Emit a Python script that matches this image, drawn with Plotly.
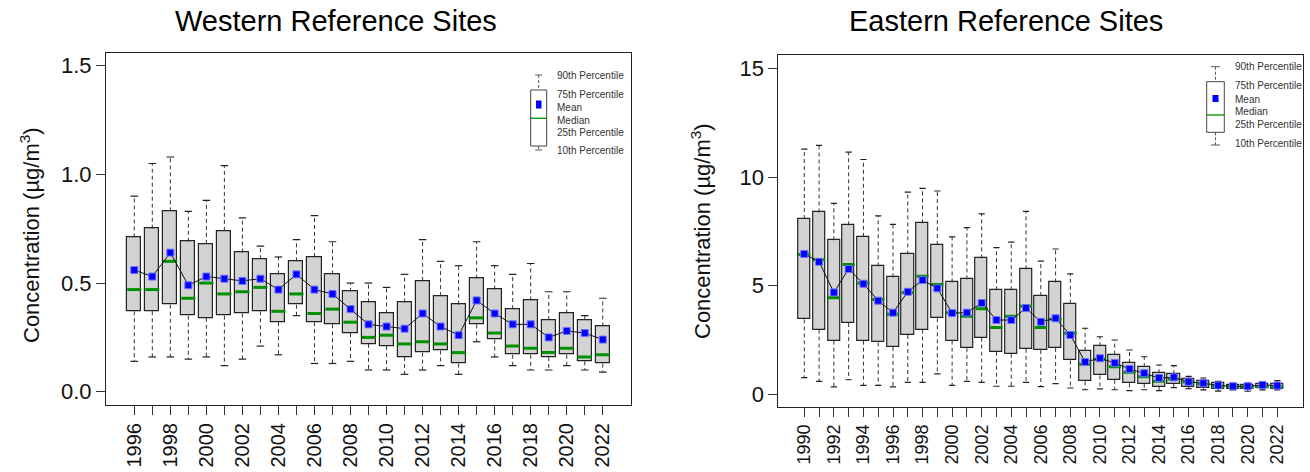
import plotly.graph_objects as go

# ---------------- data ----------------
west_years = list(range(1996, 2023))
west_p90 = [0.90, 1.05, 1.08, 0.83, 0.88, 1.04, 0.80, 0.67, 0.62, 0.70, 0.81, 0.69, 0.50, 0.50,
            0.48, 0.54, 0.70, 0.60, 0.58, 0.69, 0.58, 0.54, 0.59, 0.46, 0.46, 0.35, 0.43]
west_q3 = [0.71, 0.75, 0.83, 0.69, 0.68, 0.74, 0.64, 0.61, 0.54, 0.60, 0.62, 0.54, 0.46, 0.41,
           0.36, 0.41, 0.51, 0.44, 0.40, 0.52, 0.47, 0.38, 0.42, 0.33, 0.36, 0.33, 0.30]
west_mean = [0.56, 0.53, 0.64, 0.49, 0.53, 0.52, 0.51, 0.52, 0.47, 0.54, 0.47, 0.45, 0.38, 0.31,
             0.30, 0.29, 0.36, 0.30, 0.26, 0.42, 0.36, 0.31, 0.31, 0.25, 0.28, 0.27, 0.24]
west_median = [0.47, 0.47, 0.60, 0.43, 0.50, 0.45, 0.46, 0.48, 0.37, 0.45, 0.36, 0.38, 0.32, 0.25,
               0.26, 0.22, 0.23, 0.22, 0.18, 0.34, 0.27, 0.21, 0.20, 0.18, 0.20, 0.16, 0.17]
west_q1 = [0.37, 0.37, 0.40, 0.35, 0.34, 0.35, 0.36, 0.37, 0.32, 0.40, 0.32, 0.31, 0.27, 0.22,
           0.21, 0.16, 0.18, 0.19, 0.13, 0.31, 0.24, 0.17, 0.17, 0.16, 0.17, 0.14, 0.13]
west_p10 = [0.14, 0.16, 0.16, 0.15, 0.16, 0.12, 0.15, 0.21, 0.17, 0.35, 0.13, 0.13, 0.14, 0.10,
            0.10, 0.08, 0.10, 0.12, 0.08, 0.23, 0.16, 0.12, 0.10, 0.10, 0.12, 0.10, 0.09]

east_years = list(range(1990, 2023))
east_p90 = [11.29, 11.46, 8.79, 11.15, 10.81, 8.21, 7.82, 9.31, 9.48, 9.36, 7.25, 7.67, 8.31, 6.75,
            7.01, 8.42, 6.13, 6.69, 5.54, 3.04, 2.65, 2.50, 2.04, 1.73, 1.35, 1.32, 0.83, 0.75,
            0.60, 0.51, 0.51, 0.57, 0.63]
east_q3 = [8.07, 8.37, 7.09, 7.78, 7.25, 5.89, 5.38, 6.44, 7.87, 6.87, 5.15, 5.29, 6.26, 4.79,
           4.79, 5.75, 4.52, 5.15, 4.17, 1.99, 2.21, 1.83, 1.44, 1.26, 0.97, 0.92, 0.72, 0.61,
           0.51, 0.44, 0.43, 0.46, 0.46]
east_mean = [6.46, 6.10, 4.69, 5.77, 5.09, 4.31, 3.76, 4.72, 5.26, 4.88, 3.74, 3.76, 4.20, 3.42,
             3.42, 3.97, 3.34, 3.50, 2.73, 1.49, 1.66, 1.44, 1.17, 0.97, 0.75, 0.78, 0.58, 0.51,
             0.41, 0.37, 0.37, 0.43, 0.40]
east_median = [6.44, 6.20, 4.45, 5.98, 5.12, 4.36, 3.68, 4.69, 5.43, 5.06, 3.76, 3.59, 3.94, 3.07,
               3.59, 4.05, 3.08, 3.45, 2.81, 1.38, 1.61, 1.27, 1.01, 0.81, 0.60, 0.71, 0.57, 0.48,
               0.37, 0.35, 0.34, 0.35, 0.35]
east_q1 = [3.45, 2.98, 2.47, 3.28, 2.47, 2.39, 2.18, 2.73, 2.98, 3.50, 2.47, 2.13, 2.61, 1.96,
           1.87, 2.09, 2.04, 2.13, 1.56, 0.60, 0.87, 0.67, 0.51, 0.48, 0.34, 0.48, 0.35, 0.28,
           0.26, 0.25, 0.25, 0.28, 0.25]
east_p10 = [0.77, 0.60, 0.34, 0.67, 0.41, 0.41, 0.34, 0.55, 0.55, 0.94, 0.41, 0.60, 0.55, 0.37,
            0.37, 0.55, 0.35, 0.49, 0.29, 0.21, 0.25, 0.21, 0.17, 0.21, 0.17, 0.31, 0.26, 0.20,
            0.15, 0.20, 0.14, 0.20, 0.20]

west_yticks = [0.0, 0.5, 1.0, 1.5]
west_yticktext = ["0.0", "0.5", "1.0", "1.5"]
east_yticks = [0, 5, 10, 15]
east_yticktext = ["0", "5", "10", "15"]

legend_labels = ["90th Percentile", "75th Percentile", "Mean", "Median",
                 "25th Percentile", "10th Percentile"]

FONT = "Liberation Sans, Arial, sans-serif"
W, H = 1310, 472
BOX_FILL = "#d3d3d3"
MED_COL = "#009000"
MEAN_COL = "#0000ff"

fig = go.Figure()


def add_panel(years, p10, q1, med, q3, p90, mean, xa, ya, bw, capw, msize):
    # boxes
    fig.add_trace(go.Bar(x=years, y=[b - a for a, b in zip(q1, q3)], base=q1, width=bw,
                         marker=dict(color=BOX_FILL, line=dict(color="#222222", width=1.2)),
                         xaxis=xa, yaxis=ya, hoverinfo="skip"))
    # whiskers (dashed)
    wx, wy = [], []
    for yr, a, b, c, d in zip(years, p10, q1, q3, p90):
        wx += [yr, yr, None, yr, yr, None]
        wy += [c, d, None, b, a, None]
    fig.add_trace(go.Scatter(x=wx, y=wy, mode="lines", xaxis=xa, yaxis=ya,
                             line=dict(color="#333333", width=1, dash="4px,3px"),
                             hoverinfo="skip"))
    # caps
    cx, cy = [], []
    for yr, a, d in zip(years, p10, p90):
        cx += [yr - capw / 2, yr + capw / 2, None, yr - capw / 2, yr + capw / 2, None]
        cy += [d, d, None, a, a, None]
    fig.add_trace(go.Scatter(x=cx, y=cy, mode="lines", xaxis=xa, yaxis=ya,
                             line=dict(color="#222222", width=1.2), hoverinfo="skip"))
    # medians
    mx, my = [], []
    for yr, m in zip(years, med):
        mx += [yr - bw / 2, yr + bw / 2, None]
        my += [m, m, None]
    fig.add_trace(go.Scatter(x=mx, y=my, mode="lines", xaxis=xa, yaxis=ya,
                             line=dict(color=MED_COL, width=3), hoverinfo="skip"))
    # mean line + markers
    fig.add_trace(go.Scatter(x=years, y=mean, mode="lines", xaxis=xa, yaxis=ya,
                             line=dict(color="#111111", width=1), hoverinfo="skip"))
    fig.add_trace(go.Scatter(x=years, y=mean, mode="markers", xaxis=xa, yaxis=ya,
                             marker=dict(symbol="square", size=msize, color=MEAN_COL,
                                         line=dict(color="#7070ff", width=1)),
                             hoverinfo="skip"))


add_panel(west_years, west_p10, west_q1, west_median, west_q3, west_p90, west_mean,
          "x", "y", 0.78, 0.42, 7)
add_panel(east_years, east_p10, east_q1, east_median, east_q3, east_p90, east_mean,
          "x2", "y2", 0.82, 0.42, 7)


def px_x(v):
    return v / W


def px_y(v):
    return 1 - v / H


def xaxis_cfg(years, dom, rng, fsize):
    return dict(domain=dom, range=rng, tickmode="array", tickvals=years,
                ticktext=[str(y) if (y - years[0]) % 2 == 0 else "" for y in years],
                tickangle=-90, ticks="outside", ticklen=9, tickwidth=1, tickcolor="#333333",
                tickfont=dict(size=fsize, color="#111111", family=FONT),
                showline=True, mirror=True, linecolor="#222222", linewidth=1,
                showgrid=False, zeroline=False, automargin=False, fixedrange=True)


def yaxis_cfg(vals, text, dom, rng):
    return dict(domain=dom, range=rng, tickmode="array", tickvals=vals, ticktext=text,
                ticks="outside", ticklen=9, tickwidth=1, tickcolor="#333333",
                tickfont=dict(size=22, color="#111111", family=FONT),
                showline=True, mirror=True, linecolor="#222222", linewidth=1,
                showgrid=False, zeroline=False, automargin=False, fixedrange=True)


shapes = []
annotations = []


def add_legend(bx0, bx1, by0, by1, cap_top, cap_bot, capw, mean_box, med_y, tx, ty):
    cxm = (bx0 + bx1) / 2
    # whiskers
    shapes.append(dict(type="line", xref="paper", yref="paper",
                       x0=px_x(cxm), x1=px_x(cxm), y0=px_y(cap_top), y1=px_y(by0),
                       line=dict(color="#555555", width=1, dash="3px,2px")))
    shapes.append(dict(type="line", xref="paper", yref="paper",
                       x0=px_x(cxm), x1=px_x(cxm), y0=px_y(by1), y1=px_y(cap_bot),
                       line=dict(color="#555555", width=1, dash="3px,2px")))
    for cy in (cap_top, cap_bot):
        shapes.append(dict(type="line", xref="paper", yref="paper",
                           x0=px_x(cxm - capw / 2), x1=px_x(cxm + capw / 2),
                           y0=px_y(cy), y1=px_y(cy), line=dict(color="#555555", width=1)))
    shapes.append(dict(type="rect", xref="paper", yref="paper",
                       x0=px_x(bx0), x1=px_x(bx1), y0=px_y(by1), y1=px_y(by0),
                       fillcolor="white", line=dict(color="#444444", width=1)))
    shapes.append(dict(type="line", xref="paper", yref="paper",
                       x0=px_x(bx0), x1=px_x(bx1), y0=px_y(med_y), y1=px_y(med_y),
                       line=dict(color=MED_COL, width=1.3)))
    mx0, mx1, my0, my1 = mean_box
    shapes.append(dict(type="rect", xref="paper", yref="paper",
                       x0=px_x(mx0), x1=px_x(mx1), y0=px_y(my1), y1=px_y(my0),
                       fillcolor=MEAN_COL, line=dict(color=MEAN_COL, width=0)))
    for lab, yy in zip(legend_labels, ty):
        annotations.append(dict(text=lab, xref="paper", yref="paper", x=px_x(tx), y=px_y(yy),
                                xanchor="left", yanchor="middle", showarrow=False,
                                font=dict(size=10, color="#333333", family=FONT)))


add_legend(530.7, 546.7, 90, 146, 75, 150, 7, (536, 541.5, 100.5, 108.5), 118.3,
           555, [75, 94.3, 107.7, 121, 132.3, 150.7])
add_legend(1206.7, 1224.3, 81.7, 132.3, 66.7, 145, 9, (1212.5, 1218.5, 95, 102), 115,
           1233.3, [66.7, 86, 99, 111, 124.3, 143.3])

# titles
annotations.append(dict(text="Western Reference Sites", xref="paper", yref="paper",
                        x=px_x(336), y=px_y(21), xanchor="center", yanchor="middle",
                        showarrow=False, font=dict(size=29, color="#000000", family=FONT)))
annotations.append(dict(text="Eastern Reference Sites", xref="paper", yref="paper",
                        x=px_x(1006), y=px_y(21), xanchor="center", yanchor="middle",
                        showarrow=False, font=dict(size=29, color="#000000", family=FONT)))
# y titles
ytitle = "Concentration (\u00b5g/m<sup>3</sup>)"
annotations.append(dict(text=ytitle, xref="paper", yref="paper", x=px_x(30), y=px_y(235),
                        xanchor="center", yanchor="middle", textangle=-90, showarrow=False,
                        font=dict(size=22, color="#111111", family=FONT)))
annotations.append(dict(text=ytitle, xref="paper", yref="paper", x=px_x(701), y=px_y(231),
                        xanchor="center", yanchor="middle", textangle=-90, showarrow=False,
                        font=dict(size=22, color="#111111", family=FONT)))

fig.update_layout(
    width=W, height=H, template="none",
    margin=dict(l=0, r=0, t=0, b=0, pad=0),
    paper_bgcolor="white", plot_bgcolor="white",
    showlegend=False, bargap=0, barmode="overlay",
    font=dict(family=FONT),
    xaxis=xaxis_cfg(west_years, [106 / W, 630.7 / W], [1994.43, 2023.55], 20),
    yaxis=yaxis_cfg(west_yticks, west_yticktext, [1 - 405 / H, 1 - 53.3 / H], [-0.061, 1.557]),
    xaxis2=dict(xaxis_cfg(east_years, [778.3 / W, 1303.3 / W], [1988.24, 2023.76], 18),
                anchor="y2"),
    yaxis2=dict(yaxis_cfg(east_yticks, east_yticktext, [1 - 407.3 / H, 1 - 55 / H],
                          [-0.598, 15.62]), anchor="x2"),
    shapes=shapes, annotations=annotations,
)
fig.update_layout(xaxis=dict(anchor="y"), yaxis=dict(anchor="x"))

fig.write_html("out.html")
